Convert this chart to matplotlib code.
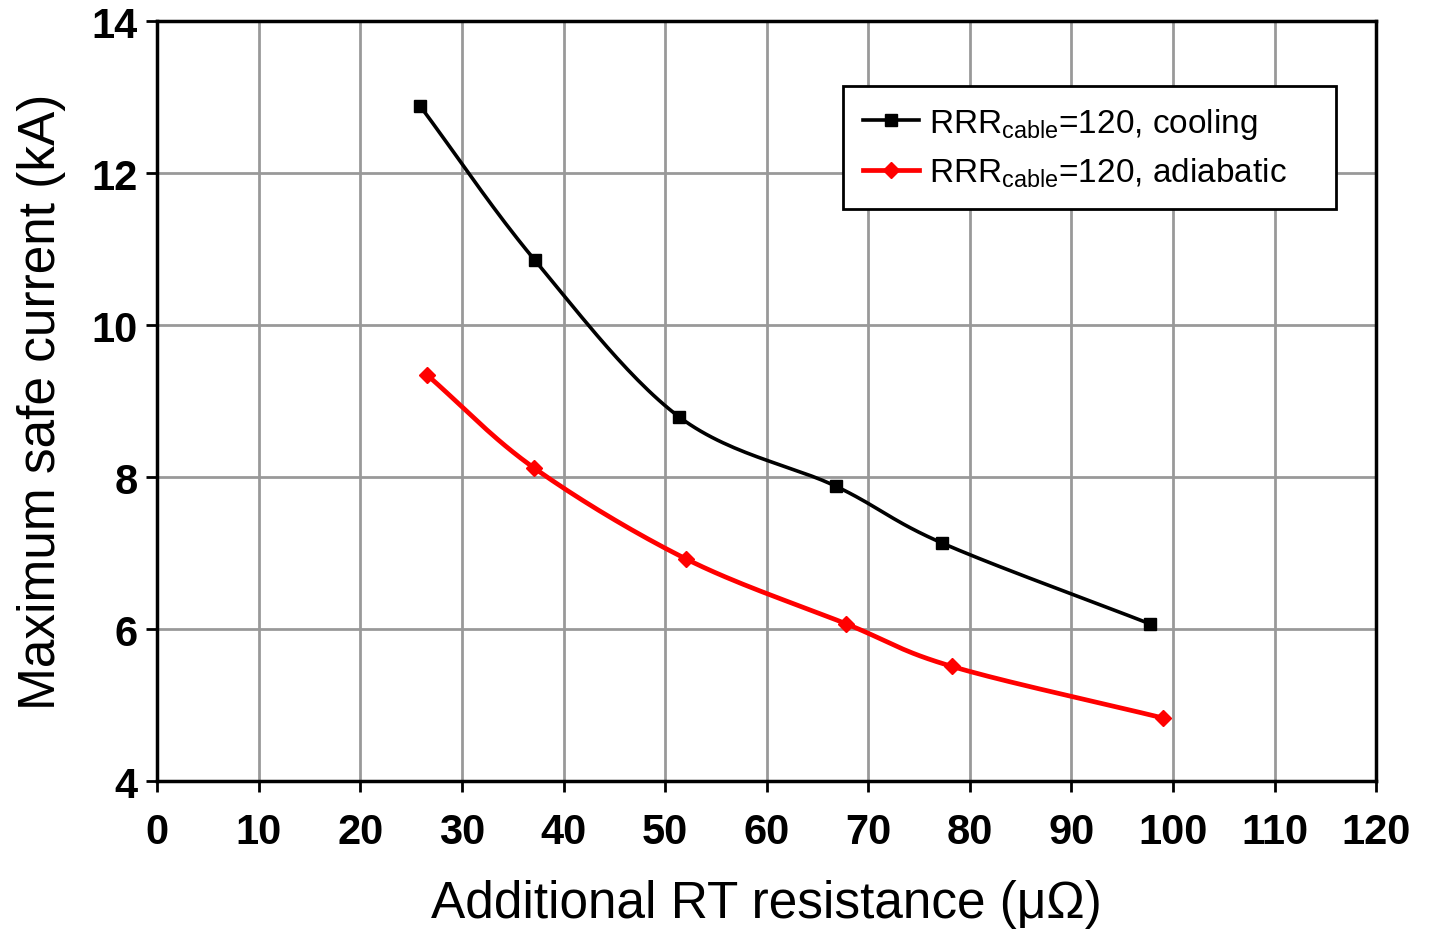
import matplotlib
matplotlib.use("Agg")
import matplotlib.pyplot as plt
import numpy as np
from matplotlib.lines import Line2D

plt.rcParams['font.family'] = ['Liberation Sans', 'DejaVu Sans']

# values
r_cooling = [25.9, 37.2, 51.4, 66.8, 77.3, 97.7]
i_cooling = [12.88, 10.85, 8.79, 7.88, 7.13, 6.07]
r_adiabatic = [26.6, 37.1, 52.1, 67.8, 78.2, 99.0]
i_adiabatic = [9.34, 8.12, 6.92, 6.07, 5.51, 4.83]

x_ticks = list(range(0, 121, 10))
y_ticks = [4, 6, 8, 10, 12, 14]


def smooth(xs, ys, n=30):
    # Catmull-Rom curve through the points, like Excel's smoothed line
    p = np.column_stack([xs, ys]).astype(float)
    p = np.vstack([2 * p[0] - p[1], p, 2 * p[-1] - p[-2]])
    out = []
    t = np.linspace(0, 1, n)[:, None]
    for k in range(1, len(p) - 2):
        p0, p1, p2, p3 = p[k - 1], p[k], p[k + 1], p[k + 2]
        seg = 0.5 * ((2 * p1) + (-p0 + p2) * t + (2 * p0 - 5 * p1 + 4 * p2 - p3) * t ** 2
                     + (-p0 + 3 * p1 - 3 * p2 + p3) * t ** 3)
        out.append(seg if k == 1 else seg[1:])
    out = np.vstack(out)
    return out[:, 0], out[:, 1]


fig = plt.figure(figsize=(14.29, 9.37), dpi=100)
ax = fig.add_axes([0.110, 0.1654, 0.853, 0.811])

sx, sy = smooth(r_cooling, i_cooling)
ax.plot(sx, sy, color='black', lw=2.6, zorder=3)
ax.plot(r_cooling, i_cooling, ls='none', marker='s', ms=8, color='black', zorder=4)

sx, sy = smooth(r_adiabatic, i_adiabatic)
ax.plot(sx, sy, color='red', lw=3.4, zorder=3)
ax.plot(r_adiabatic, i_adiabatic, ls='none', marker='D', ms=8, color='red', zorder=4)

ax.set_xlim(0, 120)
ax.set_ylim(4, 14)
ax.set_xticks(x_ticks)
ax.set_yticks(y_ticks)
ax.grid(True, color='#999999', lw=2)
ax.set_axisbelow(True)
for s in ax.spines.values():
    s.set_linewidth(2.5)
    s.set_color('black')
ax.tick_params(direction='out', length=8, width=2, labelsize=30, pad=6)
for lab in ax.get_xticklabels() + ax.get_yticklabels():
    lab.set_fontweight('bold')
ax.tick_params(axis='x', pad=14)

ax.set_xlabel('Additional RT resistance (μΩ)', fontsize=37, labelpad=20)
ax.set_ylabel('Maximum safe current (kA)', fontsize=37, labelpad=18)

handles = [
    Line2D([], [], color='black', lw=2.6, marker='s', ms=8),
    Line2D([], [], color='red', lw=3.4, marker='D', ms=8),
]
# trailing spaces give the wide right margin of the original legend box
labels = [r'RRR$_{\mathregular{cable}}$=120, cooling', r'RRR$_{\mathregular{cable}}$=120, adiabatic    ']
leg = ax.legend(handles, labels, loc='upper right', bbox_to_anchor=(0.967, 0.915),
                fontsize=24, frameon=True, fancybox=False, framealpha=1,
                edgecolor='black', handlelength=1.7, handletextpad=0.3,
                borderpad=0.6, labelspacing=0.45, borderaxespad=0)
leg.get_frame().set_linewidth(2)

fig.savefig('out.png', dpi=100)
